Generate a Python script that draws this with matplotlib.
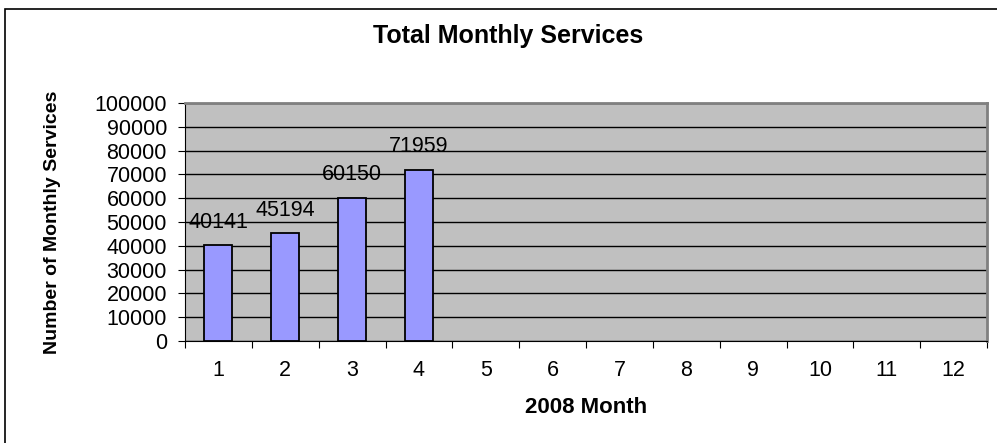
import matplotlib
matplotlib.use("Agg")
import matplotlib.pyplot as plt
from matplotlib.patches import Rectangle

# donnees
mois = [1, 2, 3, 4, 5, 6, 7, 8, 9, 10, 11, 12]
services = [40141, 45194, 60150, 71959]
graduations = list(range(0, 100001, 10000))

plt.rcParams['font.family'] = ['Liberation Sans', 'DejaVu Sans']

fig = plt.figure(figsize=(9.97, 4.43), dpi=100)
ax = fig.add_axes([185/997, 1-341/443, (987-185)/997, (341-103)/443])

# cadre du graphique (coupe a droite et en bas)
fig.patches.append(Rectangle((5/997, -0.1), 1.2, 1-9/443+0.1, transform=fig.transFigure,
                             fill=False, edgecolor='black', linewidth=1.2))

ax.set_facecolor('#C0C0C0')
x_pos = list(range(len(services)))
bars = ax.bar(x_pos, services, width=0.42, color='#9999FF', edgecolor='black', linewidth=1.3, zorder=3)
for xi, v in zip(x_pos, services):
    ax.annotate(str(v), (xi, v), xytext=(0, 12.5), textcoords='offset points',
                ha='center', va='baseline', fontsize=15.5, zorder=4)

ax.set_xlim(-0.5, len(mois)-0.5)
ax.set_ylim(0, 100000)
ax.set_yticks(graduations)
ax.set_yticklabels([str(g) for g in graduations], fontsize=15.5)
ax.yaxis.grid(True, color='black', linewidth=1)
ax.set_axisbelow(True)

# graduations entre les categories, etiquettes au centre
ax.set_xticks([i - 0.5 for i in range(len(mois)+1)])
ax.set_xticklabels([])
ax.set_xticks(range(len(mois)), minor=True)
ax.set_xticklabels([str(m) for m in mois], minor=True, fontsize=15.5)
ax.tick_params(axis='x', which='minor', length=0, pad=14)
ax.tick_params(axis='x', which='major', length=5, direction='out')
ax.tick_params(axis='y', length=5, direction='out', pad=8)

for s in ['top', 'right']:
    ax.spines[s].set_color('#808080')
    ax.spines[s].set_linewidth(2)
ax.spines['left'].set_color('black')
ax.spines['bottom'].set_color('black')

ax.set_xlabel('2008 Month', fontsize=16, fontweight='bold')
ax.xaxis.label.set_va('baseline')
ax.xaxis.set_label_coords(0.5, -(413-341)/238)
ax.set_ylabel('Number of Monthly Services', fontsize=14, fontweight='bold')
ax.yaxis.set_label_coords(-(185-61)/802, 0.5)
fig.text(508/997, 1-43/443, 'Total Monthly Services', ha='center', va='baseline',
         fontsize=18, fontweight='bold')

fig.savefig('out.png', dpi=100)
